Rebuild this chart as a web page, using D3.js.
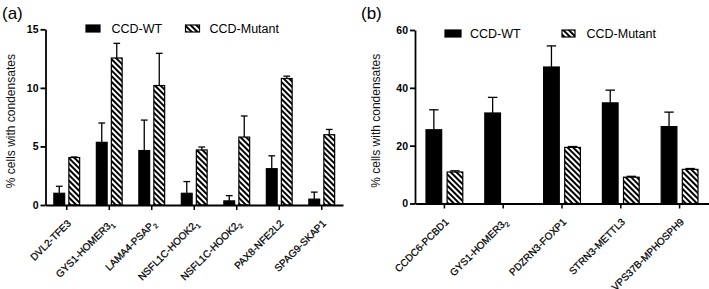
<!DOCTYPE html>
<html><head><meta charset="utf-8">
<script src="https://cdn.jsdelivr.net/npm/d3@7"></script>
<style>
html,body{margin:0;padding:0;background:#fff;}
svg{display:block;}
text{font-family:Arial,"Liberation Sans",sans-serif;}
</style></head>
<body>
<svg id="chart" width="709" height="289"></svg>
<script>
// ---------- data ----------
const catsA = ["DVL2-TFE3","GYS1-HOMER3_1","LAMA4-PSAP_2","NSFL1C-HOOK2_1","NSFL1C-HOOK2_2","PAX8-NFE2L2","SPAG9-SKAP1"];
const wtA   = [1.0, 5.35, 4.65, 1.0, 0.35, 3.1, 0.5];
const wtErrA  = [0.6, 1.65, 2.6, 1.0, 0.45, 1.1, 0.6];
const mutA  = [4.05, 12.55, 10.2, 4.7, 5.8, 10.8, 6.0];
const mutErrA = [0.05, 1.25, 2.75, 0.25, 1.8, 0.2, 0.45];
const ticksA = [0, 5, 10, 15];

const catsB = ["CCDC6-PCBD1","GYS1-HOMER3_2","PDZRN3-FOXP1","STRN3-METTL3","VPS37B-MPHOSPH9"];
const wtB   = [25.5, 31.3, 47.2, 34.8, 26.6];
const wtErrB  = [6.9, 5.4, 7.3, 4.4, 5.0];
const mutB  = [10.9, 0, 19.4, 9.1, 11.8];
const mutErrB = [0.4, 0, 0.3, 0.3, 0.3];
const ticksB = [0, 20, 40, 60];

const seriesNames = ["CCD-WT","CCD-Mutant"];
const yLabel = "% cells with condensates";

// ---------- drawing ----------
const svg = d3.select("#chart");
const defs = svg.append("defs");
const pat = defs.append("pattern").attr("id","hatch").attr("patternUnits","userSpaceOnUse")
  .attr("width",4).attr("height",4).attr("patternTransform","rotate(-45)");
pat.append("rect").attr("width",4).attr("height",4).attr("fill","#fff");
pat.append("rect").attr("width",2).attr("height",4).attr("fill","#000");

function panel(cfg){
  const g = svg.append("g");
  const x = d3.scaleBand().domain(d3.range(cfg.cats.length)).range([cfg.x0, cfg.x1]).padding(0);
  const y = d3.scaleLinear().domain([0, cfg.ymax]).range([cfg.y0, cfg.ytop]);
  const bw = x.bandwidth();
  const x1 = d3.scaleBand().domain([0,1]).range([bw/2 - cfg.pair/2, bw/2 + cfg.pair/2]).paddingInner(0.2);
  const sw = x1.bandwidth();

  const rows = [];
  cfg.cats.forEach((c,i)=>{
    rows.push({i, s:0, v:cfg.wt[i], e:cfg.wtErr[i]});
    rows.push({i, s:1, v:cfg.mut[i], e:cfg.mutErr[i]});
  });
  const vis = rows.filter(d=>d.v>0);

  // error bars
  const eg = g.append("g").attr("stroke","#000").attr("stroke-width",1.3);
  vis.forEach(d=>{
    if(!(d.e>0)) return;
    const cx = x(d.i) + x1(d.s) + sw/2;
    eg.append("line").attr("x1",cx).attr("x2",cx).attr("y1",y(d.v)).attr("y2",y(d.v+d.e));
    eg.append("line").attr("x1",cx - sw*0.28).attr("x2",cx + sw*0.28).attr("y1",y(d.v+d.e)).attr("y2",y(d.v+d.e));
  });

  // bars
  g.append("g").selectAll("rect").data(vis).join("rect")
    .attr("x", d=>x(d.i)+x1(d.s)+0.6)
    .attr("width", sw-1.2)
    .attr("y", d=>y(d.v))
    .attr("height", d=>cfg.y0 - y(d.v))
    .attr("fill", d=>d.s===0 ? "#000" : "url(#hatch)")
    .attr("stroke","#000").attr("stroke-width",1.2);

  // y axis
  const ya = g.append("g").attr("transform",`translate(${cfg.x0},0)`)
    .call(d3.axisLeft(y).tickValues(cfg.ticks).tickSize(5).tickSizeOuter(0).tickPadding(2));
  ya.select(".domain").attr("stroke-width",1.8);
  ya.selectAll(".tick line").attr("stroke-width",1.8);
  ya.selectAll("text").attr("font-size",10.5).attr("font-weight","bold").attr("fill","#000")
    .attr("font-family","Arial, 'Liberation Sans', sans-serif");

  // x axis
  const xa = g.append("g").attr("transform",`translate(0,${cfg.y0})`)
    .call(d3.axisBottom(x).tickSize(5).tickSizeOuter(0).tickFormat(()=>""));
  xa.select(".domain").attr("stroke-width",1.8);
  xa.selectAll(".tick line").attr("stroke-width",1.5);

  // x labels (rotated)
  cfg.cats.forEach((c,i)=>{
    const parts = c.split("_");
    const cx = x(i) + bw/2;
    const t = g.append("text").attr("transform",`translate(${cx+5},${cfg.y0+19}) rotate(-45)`)
      .attr("text-anchor","end").attr("font-size",10).attr("fill","#000")
      .attr("stroke","#000").attr("stroke-width",0.25);
    t.append("tspan").text(parts[0]);
    if(parts[1]) t.append("tspan").attr("font-size",7).attr("dy",3).text(parts[1]);
  });

  // y label
  g.append("text").attr("transform",`translate(${cfg.ylx},${(cfg.y0+cfg.ytop)/2+4}) rotate(-90)`)
    .attr("text-anchor","middle").attr("font-size",12).attr("fill","#111").text(yLabel);

  // panel label
  g.append("text").attr("x",cfg.plx).attr("y",19).attr("font-size",17)
    .attr("font-family","'Times New Roman','Liberation Serif',serif").text(cfg.panel);

  // legend
  const lg = g.append("g");
  cfg.leg.forEach((L,k)=>{
    lg.append("rect").attr("x",L.x).attr("y",cfg.legY-8).attr("width",L.w).attr("height",7)
      .attr("fill", k===0 ? "#000" : "url(#hatch)").attr("stroke","#000").attr("stroke-width",1.2);
    lg.append("text").attr("x",L.tx).attr("y",cfg.legY).attr("font-size",12.5).attr("fill","#000").text(seriesNames[k]);
  });
}

panel({cats:catsA, wt:wtA, wtErr:wtErrA, mut:mutA, mutErr:mutErrA, ticks:ticksA, ymax:15,
  x0:45.5, x1:343, y0:205, ytop:29.3, pair:27, ylx:15, plx:2, panel:"(a)", legY:33,
  leg:[{x:86,w:14,tx:111.5},{x:185.5,w:14,tx:209.5}]});
panel({cats:catsB, wt:wtB, wtErr:wtErrB, mut:mutB, mutErr:mutErrB, ticks:ticksB, ymax:60,
  x0:415, x1:709, y0:203.5, ytop:30, pair:38, ylx:380, plx:361, panel:"(b)", legY:38,
  leg:[{x:445,w:16,tx:470},{x:562,w:13,tx:586.5}]});
</script>
</body></html>
